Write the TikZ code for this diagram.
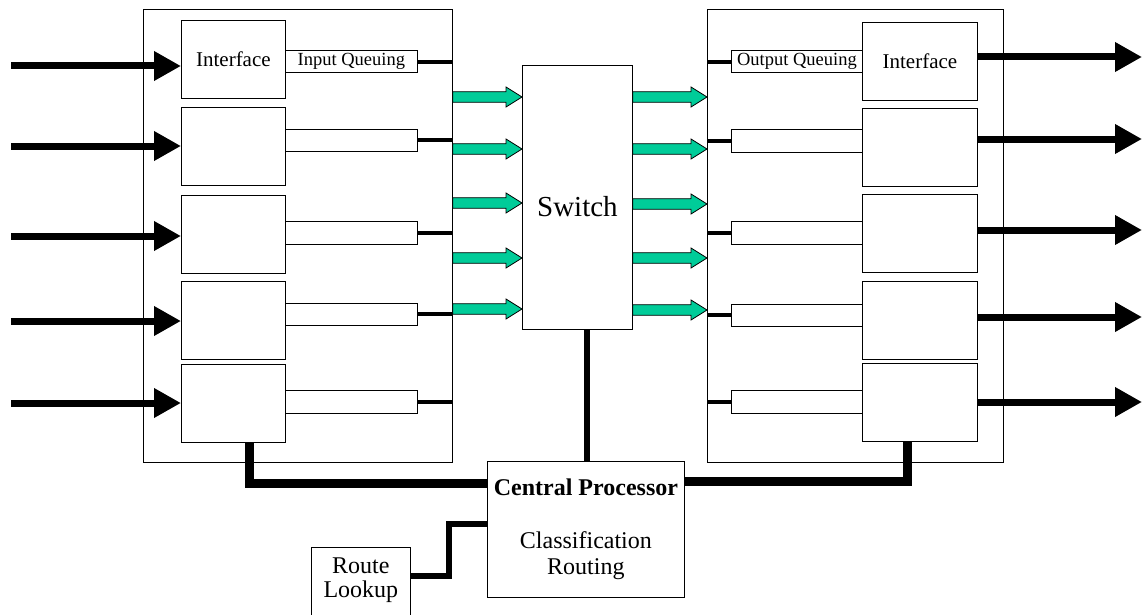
\documentclass[tikz,border=0pt]{standalone}
\usepackage{fontspec}
\setmainfont{Liberation Serif}
\usetikzlibrary{arrows.meta,calc}
\definecolor{seagreen}{RGB}{0,204,153}
\newcommand\garrow[2]{%
  \filldraw[garrowsty] ($(#1)+(0,5.3)$) -- ($(#2)+(-16,5.3)$) -- ($(#2)+(-16,10)$) -- (#2)
    -- ($(#2)+(-16,-10)$) -- ($(#2)+(-16,-5.3)$) -- ($(#1)+(0,-5.3)$) -- cycle;}
\begin{document}
\begin{tikzpicture}[x=1pt,y=-1pt,
  box/.style={draw, line width=0.8pt, inner sep=0pt, anchor=north west},
  ifbox/.style={box, minimum height=78pt, font=\fontsize{21}{24}\selectfont},
  qbox/.style={box, minimum height=22.5pt, font=\fontsize{18.5}{20}\selectfont},
  bigarrow/.style={line width=7pt, -{Triangle[length=27pt,width=28pt]}},
  qline/.style={line width=4pt},
  bus/.style={line width=9pt},
  thinbus/.style={line width=6.5pt},
  garrowsty/.style={fill=seagreen, draw=black, line width=0.8pt, line join=miter}
]
\clip (0,0) rectangle (1142,615);
% outer boxes
\node[box, minimum width=309pt, minimum height=453pt] (lb) at (143,9) {};
\node[box, minimum width=296pt, minimum height=453pt] (rb) at (707,9) {};
% left interfaces
\node[ifbox, minimum width=104pt] (lif1) at (181,20) {Interface};
\node[ifbox, minimum width=104pt] (lif2) at (181,107) {};
\node[ifbox, minimum width=104pt] (lif3) at (181,195) {};
\node[ifbox, minimum width=104pt] (lif4) at (181,281) {};
\node[ifbox, minimum width=104pt] (lif5) at (181,364) {};
% left queues
\node[qbox, minimum width=132pt] (lq1) at (285,50) {Input Queuing};
\node[qbox, minimum width=132pt] (lq2) at (285,128.5) {};
\node[qbox, minimum width=132pt] (lq3) at (285,221) {};
\node[qbox, minimum width=132pt] (lq4) at (285,302.5) {};
\node[qbox, minimum width=132pt] (lq5) at (285,390) {};
% right interfaces
\node[ifbox, minimum width=115pt] (rif1) at (862,22) {Interface};
\node[ifbox, minimum width=115pt] (rif2) at (862,108) {};
\node[ifbox, minimum width=115pt] (rif3) at (862,194) {};
\node[ifbox, minimum width=115pt] (rif4) at (862,281) {};
\node[ifbox, minimum width=115pt] (rif5) at (862,363) {};
% right queues
\node[qbox, minimum width=131pt] (rq1) at (731,50) {Output Queuing};
\node[qbox, minimum width=131pt] (rq2) at (731,129) {};
\node[qbox, minimum width=131pt] (rq3) at (731,221) {};
\node[qbox, minimum width=131pt] (rq4) at (731,303.5) {};
\node[qbox, minimum width=131pt] (rq5) at (731,390) {};
% switch
\node[box, minimum width=110pt, minimum height=264pt, font=\fontsize{29}{30}\selectfont,
      text height=38pt, text depth=0pt] (sw) at (522,65) {Switch};
% central processor
\node[box, minimum width=197pt, minimum height=136pt, align=center,
      font=\fontsize{24}{26.5}\selectfont] (cp) at (487,461)
  {\textbf{Central Processor}\\[26.5pt]Classification\\Routing};
% route lookup
\node[box, draw=none, minimum width=99pt, minimum height=65pt, align=center,
      font=\fontsize{24}{24}\selectfont] (rl) at (311,547) {Route\\Lookup};
\draw[line width=0.8pt] (rl.south west |- 0,630) -- (rl.north west) -- (rl.north east) -- (rl.south east |- 0,630);
% queue lines
\foreach \i in {1,...,5} {
  \draw[qline] (lq\i.east) -- (lq\i.east -| lb.east);
  \draw[qline] (rq\i.west) -- (rq\i.west -| rb.west);
}
% input arrows
\foreach \i/\y in {1/66,2/146,3/236,4/321,5/403} {
  \coordinate (ia\i) at (11,\y);
  \draw[bigarrow] (ia\i) -- (ia\i -| lif\i.west);
}
% output arrows
\foreach \i/\y in {1/57,2/139,3/230,4/317,5/402} {
  \coordinate (oa\i) at (1142,\y);
  \draw[bigarrow] (oa\i -| rif\i.east) -- (oa\i);
}
% green arrows
\foreach \i/\y in {1/97,2/149,3/203,4/258,5/309} {
  \coordinate (gla\i) at (lb.east |- 0,\y);
  \coordinate (glb\i) at (sw.west |- 0,\y);
  \garrow{gla\i}{glb\i}
}
\foreach \i/\y in {1/97,2/149,3/204,4/258,5/310} {
  \coordinate (gra\i) at (sw.east |- 0,\y);
  \coordinate (grb\i) at (rb.west |- 0,\y);
  \garrow{gra\i}{grb\i}
}
% buses
\coordinate (sx) at (587,0);
\draw[thinbus] (sw.south -| sx) -- (cp.north -| sx);
\coordinate (lbus) at (249.5,483.5);
\draw[bus] (lif5.south -| lbus) |- (cp.west |- lbus);
\coordinate (rbus) at (907,481.5);
\draw[bus] (rif5.south -| rbus) |- (cp.east |- rbus);
\coordinate (rj) at (0,576);
\coordinate (rk) at (449,524);
\draw[thinbus] (rl.east |- rj) -| (rk) -- (cp.west |- rk);
\end{tikzpicture}
\end{document}
